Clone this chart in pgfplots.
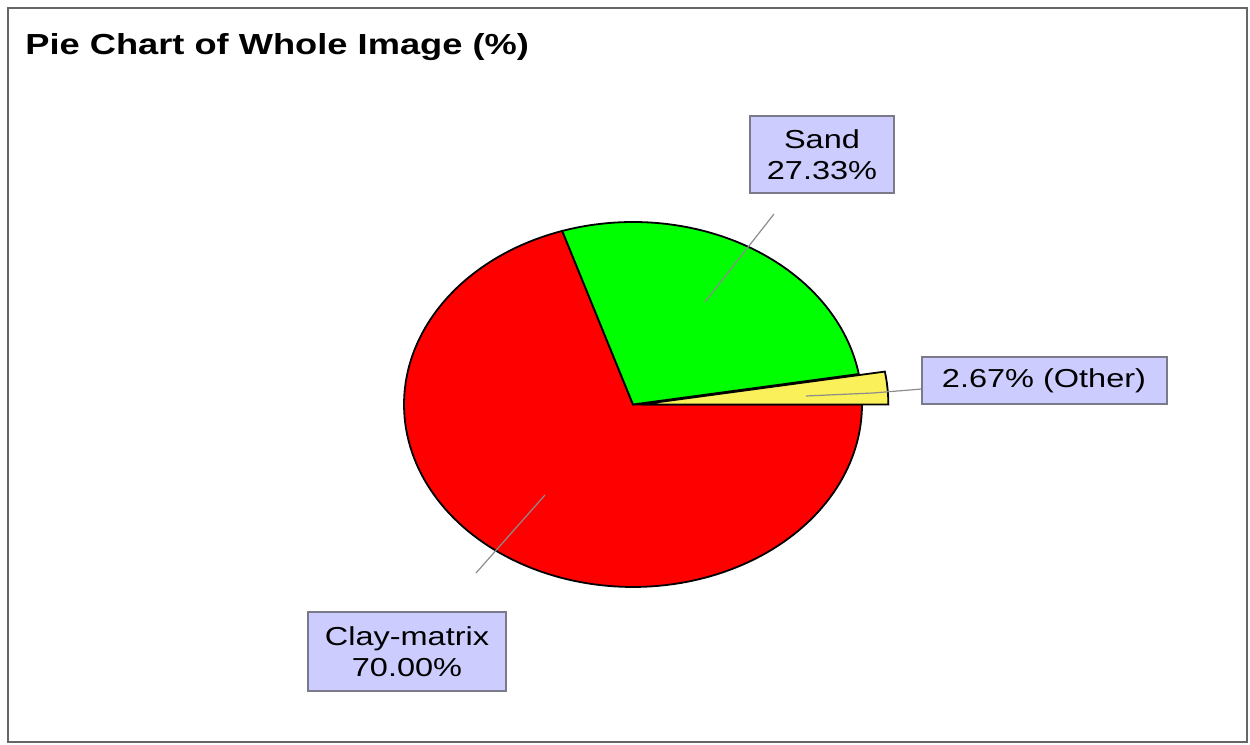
\documentclass[border=0pt]{standalone}
\usepackage{pgfplots}
\usepackage{pgfplotstable}
\pgfplotsset{compat=1.18}
\usepackage{fontspec}
\setmainfont{Liberation Sans}[FakeStretch=1.25]
\definecolor{piered}{HTML}{FF0000}
\definecolor{piegreen}{HTML}{00FF00}
\definecolor{pieyellow}{HTML}{FAF05A}
\definecolor{boxfill}{HTML}{CCCCFF}
\definecolor{boxdraw}{HTML}{7A7A8A}
\definecolor{leader}{HTML}{8C8C8C}
\pgfplotstableread{
name value
Other 2.67
Sand 27.33
Clay 70.00
}\piedata
\begin{document}
\begin{tikzpicture}
\pgfplotstablegetelem{0}{value}\of\piedata \let\vO\pgfplotsretval
\pgfplotstablegetelem{1}{value}\of\piedata \let\vS\pgfplotsretval
\pgfplotstablegetelem{2}{value}\of\piedata \let\vC\pgfplotsretval
\pgfmathsetmacro\aO{3.6*\vO}
\pgfmathsetmacro\aS{\aO+3.6*\vS}
\pgfmathsetmacro\aC{\aS+3.6*\vC}
\path[use as bounding box] (0,0) rectangle (625pt,372.5pt);
\begin{axis}[
  at={(0,0)}, anchor=south west,
  width=625pt, height=372.5pt, scale only axis,
  hide axis,
  xmin=-2.7642, xmax=2.6943,
  ymin=-1.8658, ymax=2.2164,
  clip=false,
]
\addplot[fill=piered, draw=black, line width=0.9pt, domain=\aS:\aC, samples=140, variable=\t]
  ({cos(t)},{sin(t)}) -- (axis cs:0,0) -- cycle;
\addplot[fill=piegreen, draw=black, line width=0.9pt, domain=\aO:\aS, samples=60, variable=\t]
  ({cos(t)},{sin(t)}) -- (axis cs:0,0) -- cycle;
\addplot[fill=pieyellow, draw=black, line width=0.9pt, domain=0:\aO, samples=10, variable=\t]
  ({0.035+1.08*cos(t)},{1.08*sin(t)}) -- (axis cs:0.035,0) -- cycle;
\end{axis}
\begin{scope}[x=0.5pt, y=-0.5pt, yshift=372.5pt]
  % frame
  \draw[gray!80!black, line width=0.6pt] (8,8) rectangle (1247,742);
  % title
  \node[anchor=base west, inner sep=0pt, font=\fontsize{14.5}{17}\selectfont\bfseries] at (25,55) {Pie Chart of Whole Image (\%)};
  % leader lines
  \draw[leader, line width=0.6pt] (705,302) -- (774,214);
  \draw[leader, line width=0.6pt] (545,495) -- (476,573);
  \draw[leader, line width=0.6pt] (806,396) -- (873,393) -- (922,389);
  % label boxes
  \draw[fill=boxfill, draw=boxdraw, line width=0.7pt] (750,116) rectangle (894,193);
  \draw[fill=boxfill, draw=boxdraw, line width=0.7pt] (922,357) rectangle (1167,404);
  \draw[fill=boxfill, draw=boxdraw, line width=0.7pt] (308,612) rectangle (506,691);
  \node[align=center, inner sep=0pt, font=\fontsize{13}{15.5}\selectfont] at (822,155) {Sand\\27.33\%};
  \node[inner sep=0pt, font=\fontsize{13}{15.5}\selectfont] at (1044,381) {2.67\% (Other)};
  \node[align=center, inner sep=0pt, font=\fontsize{13}{15.5}\selectfont] at (407,652) {Clay-matrix\\70.00\%};
\end{scope}
\end{tikzpicture}
\end{document}
